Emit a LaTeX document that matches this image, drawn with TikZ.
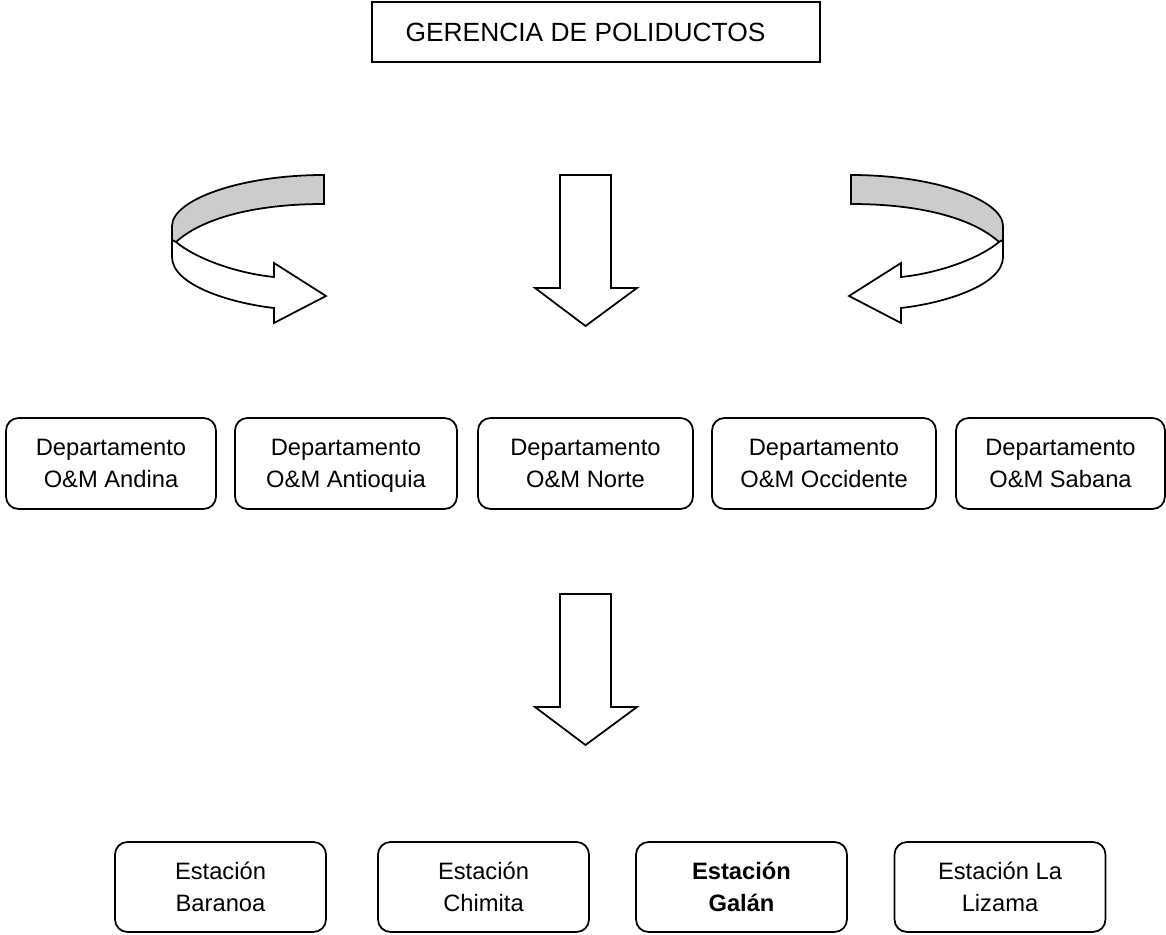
\documentclass[tikz,border=0pt]{standalone}
\usepackage{fontspec}
\setmainfont{Liberation Sans}
\definecolor{bandgray}{RGB}{204,204,204}
\tikzset{
  deptbox/.style={draw, line width=1pt, rounded corners=0.25cm, minimum height=1.82cm, align=center, inner sep=0pt, font=\fontsize{13.5}{18}\selectfont},
  estbox/.style={deptbox, minimum width=4.22cm, minimum height=1.8cm},
  blockline/.style={draw, line width=1pt, fill=white, line join=miter}
}
\begin{document}
\begin{tikzpicture}[x=0.02cm,y=-0.02cm]
\useasboundingbox (0,0) rectangle (1166,935);

\node[draw, line width=1pt, minimum width=8.96cm, minimum height=1.2cm, font=\fontsize{15}{18}\selectfont] (gerencia) at (596,32) {\hspace*{-0.42cm}GERENCIA DE POLIDUCTOS};

\foreach \t in {175,594}
{\draw[blockline] (560,\t) -- (611,\t) -- (611,\t+113) -- (637,\t+113) -- (585.5,\t+151) -- (535,\t+113) -- (560,\t+113) -- cycle;}

\foreach \s/\d in {1/0,-1/1175}
{\begin{scope}[shift={(\d,0)},xscale=\s]
\filldraw[blockline, fill=bandgray] (324,175) .. controls (240,175) and (172,200) .. (172,226) -- (172,240) -- (176,242) .. controls (200,220) and (250,204) .. (324,204) -- cycle;
\filldraw[blockline] (172,226) -- (172,257) .. controls (172,285) and (230,303) .. (274,308) -- (274,323) -- (326,296) -- (274,263) -- (274,277) .. controls (235,273) and (195,258) .. (176,242) -- (172,240) -- cycle;
\end{scope}}

\node[deptbox, minimum width=4.2cm] (andina) at (111,463.5) {Departamento\\O\&M Andina};
\node[deptbox, minimum width=4.44cm] (antioquia) at (346,463.5) {Departamento\\O\&M Antio\smash{q}uia};
\node[deptbox, minimum width=4.3cm] (norte) at (585.5,463.5) {Departamento\\O\&M Norte};
\node[deptbox, minimum width=4.48cm] (occidente) at (824,463.5) {Departamento\\O\&M Occidente};
\node[deptbox, minimum width=4.18cm] (sabana) at (1060.5,463.5) {Departamento\\O\&M Sabana};

\node[estbox] (baranoa) at (220.5,887) {Estación\\Baranoa};
\node[estbox] (chimita) at (483.5,887) {Estación\\Chimita};
\node[estbox, font=\fontsize{13.5}{18}\selectfont\bfseries] (galan) at (741.5,887) {Estación\\Galán};
\node[estbox] (lizama) at (1000,887) {Estación La\\Lizama};

\end{tikzpicture}
\end{document}
